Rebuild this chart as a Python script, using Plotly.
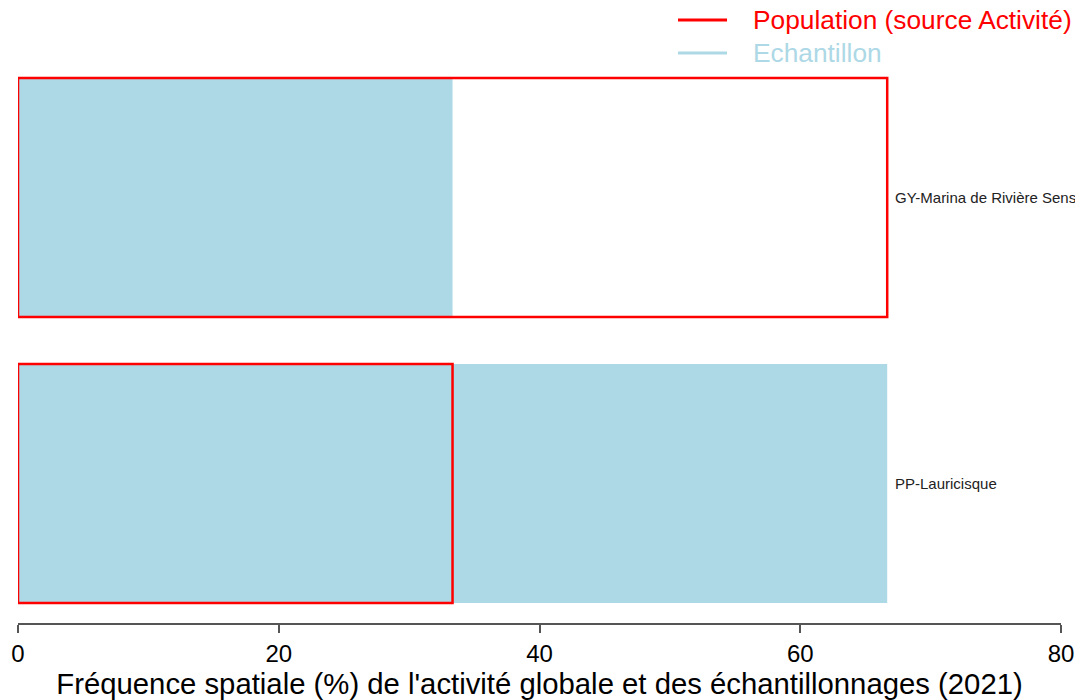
import plotly.graph_objects as go

categories = ["PP-Lauricisque", "GY-Marina de Rivière Sens"]
echantillon = [66.67, 33.33]
population = [33.33, 66.67]
x_ticks = [0, 20, 40, 60, 80]
x_title = "Fréquence spatiale (%) de l'activité globale et des échantillonnages (2021)"
legend_names = ["Population (source Activité)", "Echantillon"]
legend_colors = ["#FF0000", "#ADD8E6"]

ypos = list(range(len(categories)))
font = "Liberation Sans, Arial, sans-serif"

fig = go.Figure()
fig.add_trace(go.Bar(
    y=ypos, x=echantillon, orientation="h", width=0.836, name=legend_names[1],
    marker=dict(color=legend_colors[1], line=dict(width=0)),
    showlegend=False, hoverinfo="x",
))
fig.add_trace(go.Bar(
    y=ypos, x=population, orientation="h", width=0.836, name=legend_names[0],
    marker=dict(color="rgba(0,0,0,0)", line=dict(color=legend_colors[0], width=2.5)),
    showlegend=False, hoverinfo="x",
))

for i, c in enumerate(categories):
    fig.add_annotation(x=max(echantillon[i], population[i]), y=ypos[i],
                       xref="x", yref="y", text=c, showarrow=False,
                       xanchor="left", xshift=6,
                       font=dict(size=15, color="#222222", family=font))

# legend drawn manually (paper coordinates above the plot area)
leg_x0, leg_x1, leg_tx = 0.6328, 0.6798, 0.7028
leg_y = [1.0598, 1.0018]
for name, col, yy in zip(legend_names, legend_colors, leg_y):
    fig.add_shape(type="line", xref="paper", yref="paper",
                  x0=leg_x0, x1=leg_x1, y0=yy, y1=yy,
                  line=dict(color=col, width=3))
    fig.add_annotation(xref="paper", yref="paper", x=leg_tx, y=yy,
                       text=name, showarrow=False, xanchor="left", yanchor="middle",
                       font=dict(size=26.3, color=col, family=font))

fig.update_layout(
    width=1075, height=692,
    margin=dict(l=10, r=22, t=46, b=77, autoexpand=False),
    paper_bgcolor="white", plot_bgcolor="white",
    barmode="overlay", showlegend=False,
    font=dict(family=font, color="black"),
    xaxis=dict(range=[0, 80], tickvals=x_ticks, showgrid=False, zeroline=False,
               automargin=False,
               showline=True, linecolor="#555555", linewidth=1.5,
               ticks="outside", ticklen=8, tickcolor="#555555", tickwidth=1.5,
               tickfont=dict(size=24, color="black"),
               title=dict(text=x_title, font=dict(size=29.3, color="black"), standoff=4)),
    yaxis=dict(range=[-0.488, 1.502], showgrid=False, zeroline=False, automargin=False,
               showline=False, showticklabels=False, ticks=""),
)

fig.write_html("out.html")
